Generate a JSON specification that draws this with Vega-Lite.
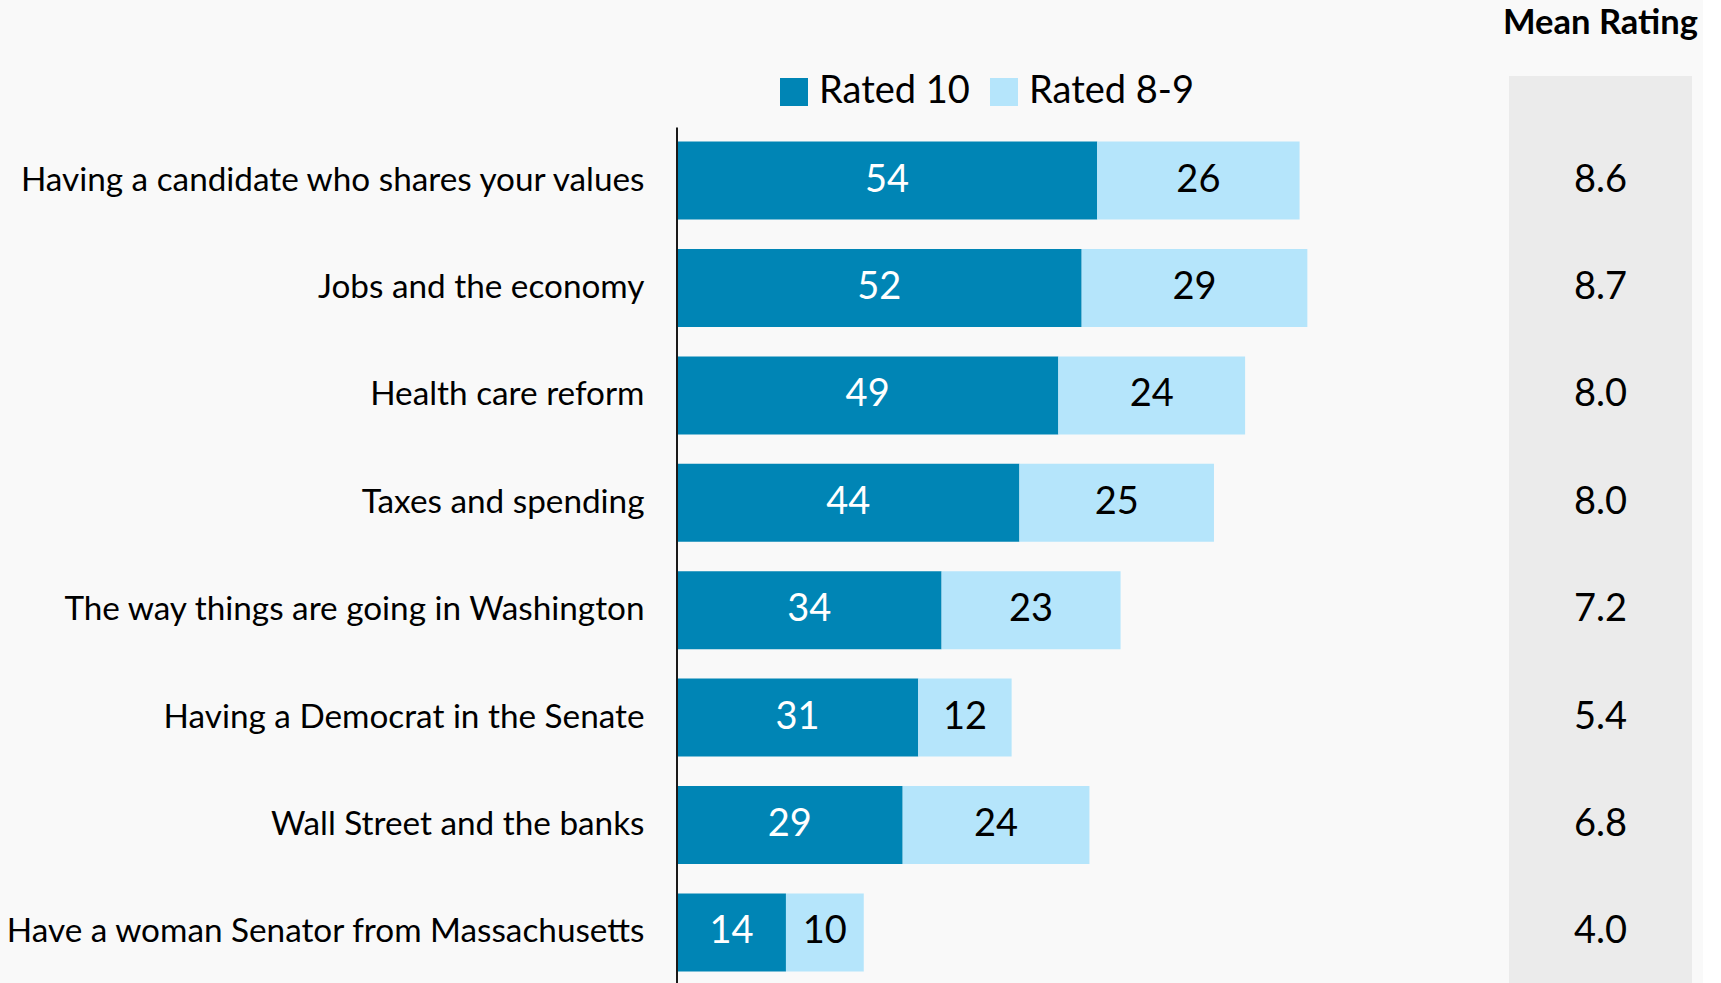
{
  "$schema": "https://vega.github.io/schema/vega-lite/v6.json",
  "background": "#F9F9F9",
  "padding": {"left": 4, "top": 6, "right": 5, "bottom": 0},
  "config": {"font": "Lato", "view": {"stroke": null}},
  "datasets": {
    "bars": [
      {"cat": "Having a candidate who shares your values", "series": "Rated 10", "value": 54},
      {"cat": "Having a candidate who shares your values", "series": "Rated 8-9", "value": 26},
      {"cat": "Jobs and the economy", "series": "Rated 10", "value": 52},
      {"cat": "Jobs and the economy", "series": "Rated 8-9", "value": 29},
      {"cat": "Health care reform", "series": "Rated 10", "value": 49},
      {"cat": "Health care reform", "series": "Rated 8-9", "value": 24},
      {"cat": "Taxes and spending", "series": "Rated 10", "value": 44},
      {"cat": "Taxes and spending", "series": "Rated 8-9", "value": 25},
      {"cat": "The way things are going in Washington", "series": "Rated 10", "value": 34},
      {"cat": "The way things are going in Washington", "series": "Rated 8-9", "value": 23},
      {"cat": "Having a Democrat in the Senate", "series": "Rated 10", "value": 31},
      {"cat": "Having a Democrat in the Senate", "series": "Rated 8-9", "value": 12},
      {"cat": "Wall Street and the banks", "series": "Rated 10", "value": 29},
      {"cat": "Wall Street and the banks", "series": "Rated 8-9", "value": 24},
      {"cat": "Have a woman Senator from Massachusetts", "series": "Rated 10", "value": 14},
      {"cat": "Have a woman Senator from Massachusetts", "series": "Rated 8-9", "value": 10}
    ],
    "means": [
      {"cat": "Having a candidate who shares your values", "mean": 8.6},
      {"cat": "Jobs and the economy", "mean": 8.7},
      {"cat": "Health care reform", "mean": 8.0},
      {"cat": "Taxes and spending", "mean": 8.0},
      {"cat": "The way things are going in Washington", "mean": 7.2},
      {"cat": "Having a Democrat in the Senate", "mean": 5.4},
      {"cat": "Wall Street and the banks", "mean": 6.8},
      {"cat": "Have a woman Senator from Massachusetts", "mean": 4.0}
    ]
  },
  "bounds": "flush",
  "spacing": 32,
  "hconcat": [
    {
      "width": 800,
      "height": 912,
      "data": {"name": "bars"},
      "layer": [
        {
          "mark": {"type": "bar"},
          "encoding": {
            "y": {
              "field": "cat", "type": "nominal",
              "scale": {
                "type": "band",
                "domain": ["Having a candidate who shares your values", "Jobs and the economy", "Health care reform", "Taxes and spending", "The way things are going in Washington", "Having a Democrat in the Senate", "Wall Street and the banks", "Have a woman Senator from Massachusetts"],
                "paddingInner": 0.274, "paddingOuter": 0.3828, "align": 0.798
              },
              "axis": {
                "title": null, "ticks": false, "domain": false, "labelPadding": 33,
                "labelFont": "Lato", "labelFontSize": 33.3, "labelColor": "#000000",
                "labelLimit": 700, "minExtent": 672, "maxExtent": 672
              }
            },
            "x": {
              "field": "value", "type": "quantitative", "stack": "zero",
              "scale": {"domain": [0, 102.8], "nice": false, "zero": true},
              "axis": null
            },
            "color": {
              "field": "series", "type": "nominal",
              "scale": {"domain": ["Rated 10", "Rated 8-9"], "range": ["#0085B5", "#B5E5FB"]},
              "legend": {
                "title": null, "orient": "none", "direction": "horizontal",
                "legendX": 98, "legendY": -3, "padding": 0,
                "symbolType": "square", "symbolSize": 784, "symbolStrokeWidth": 0,
                "labelFont": "Lato", "labelFontSize": 38, "labelColor": "#000000",
                "labelOffset": 6, "columnPadding": 15, "labelLimit": 300
              }
            }
          }
        },
        {
          "mark": {"type": "text", "font": "Lato", "fontSize": 38},
          "encoding": {
            "y": {"field": "cat", "type": "nominal"},
            "x": {"field": "value", "type": "quantitative", "stack": "zero", "bandPosition": 0.5},
            "detail": {"field": "series"},
            "order": {"field": "series", "type": "nominal", "sort": "ascending"},
            "text": {"field": "value", "type": "quantitative"},
            "color": {"condition": {"test": "datum.series === 'Rated 10'", "value": "#FFFFFF"}, "value": "#000000"}
          }
        },
        {
          "data": {"values": [{}]},
          "mark": {"type": "rule", "color": "#1a1a1a", "strokeWidth": 2, "yOffset": -53, "y2Offset": 58},
          "encoding": {
            "x": {"datum": 0, "type": "quantitative"},
            "y": {"datum": "Having a candidate who shares your values", "type": "nominal"},
            "y2": {"datum": "Have a woman Senator from Massachusetts"}
          }
        }
      ]
    },
    {
      "width": 183,
      "height": 912,
      "data": {"name": "means"},
      "view": {"fill": "#EBEBEB", "stroke": null},
      "title": {"text": "Mean Rating", "font": "Lato", "fontSize": 34.5, "fontWeight": "bold", "color": "#000000", "anchor": "middle", "offset": 34.5},
      "mark": {"type": "text", "font": "Lato", "fontSize": 38, "color": "#000000"},
      "encoding": {
        "y": {
          "field": "cat", "type": "nominal",
          "scale": {
            "type": "band",
            "domain": ["Having a candidate who shares your values", "Jobs and the economy", "Health care reform", "Taxes and spending", "The way things are going in Washington", "Having a Democrat in the Senate", "Wall Street and the banks", "Have a woman Senator from Massachusetts"],
            "paddingInner": 0.274, "paddingOuter": 0.3828, "align": 0.798
          },
          "axis": null
        },
        "text": {"field": "mean", "type": "quantitative", "format": ".1f"}
      }
    }
  ]
}
